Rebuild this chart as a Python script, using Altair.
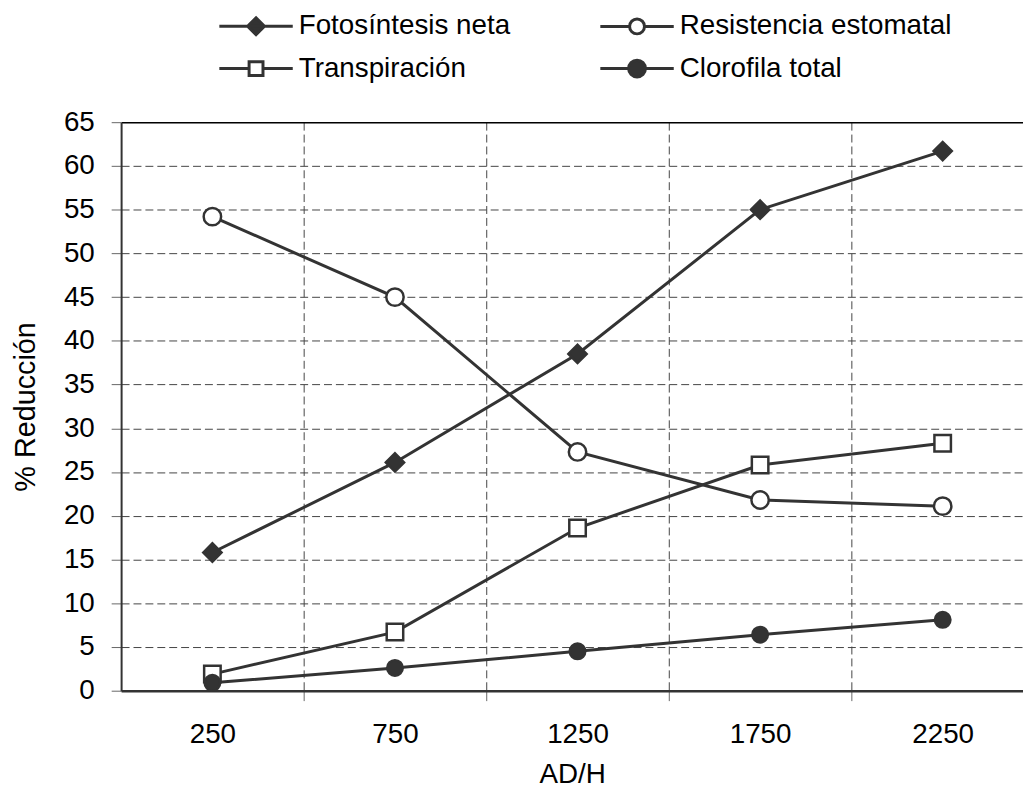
import altair as alt
import pandas as pd

# ---- data ----
x_vals = [250, 750, 1250, 1750, 2250]
series = ["Fotosíntesis neta", "Resistencia estomatal", "Transpiración", "Clorofila total"]
fotosintesis = [15.8, 26.1, 38.5, 55.0, 61.7]
resistencia = [54.2, 45.0, 27.3, 21.8, 21.1]
transpiracion = [1.9, 6.7, 18.6, 25.8, 28.3]
clorofila = [0.9, 2.6, 4.5, 6.4, 8.1]
y_ticks = list(range(0, 70, 5))
x_ticks = [250, 500, 750, 1000, 1250, 1500, 1750, 2000, 2250]

rows = []
for name, vals in zip(series, [fotosintesis, resistencia, transpiracion, clorofila]):
    for xv, yv in zip(x_vals, vals):
        rows.append({"ad": xv, "v": yv, "serie": name})
df = pd.DataFrame(rows)

FONT = "Liberation Sans"
DARK = "#333333"
GRID = "#444444"

marker_shapes = ["diamond", "circle", "square", "circle"]
marker_fills = [DARK, "white", "white", DARK]
marker_strokes = [DARK, DARK, DARK, DARK]
marker_sizes = [340, 245, 230, 265]

# legend symbols: line + marker (custom SVG paths)
legend_paths = [
    "M-3.7,0H3.7M0,-0.85L0.85,0L0,0.85L-0.85,0Z",
    "M-3.7,0H-0.75M0.75,0H3.7M-0.75,0A0.75,0.75 0 1,0 0.75,0A0.75,0.75 0 1,0 -0.75,0Z",
    "M-3.7,0H-0.7M0.7,0H3.7M-0.7,-0.7H0.7V0.7H-0.7Z",
    "M-3.7,0H3.7M-0.85,0A0.85,0.85 0 1,0 0.85,0A0.85,0.85 0 1,0 -0.85,0Z",
]

x_enc = alt.X(
    "ad:Q",
    scale=alt.Scale(domain=[0, 2470], nice=False, zero=False),
    axis=alt.Axis(
        values=x_ticks,
        format="d",
        title="AD/H",
        grid=True,
        gridColor=GRID,
        gridDash=[8, 4],
        gridWidth=1,
        gridOpacity={"condition": {"test": "datum.value % 500 === 0", "value": 1}, "value": 0},
        tickOpacity={"condition": {"test": "datum.value % 500 === 0", "value": 1}, "value": 0},
        labelOpacity={"condition": {"test": "datum.value % 500 === 0", "value": 0}, "value": 1},
        tickSize=10,
        tickColor="#666666",
        tickWidth=1,
        labelFont=FONT,
        labelFontSize=28,
        labelColor="black",
        labelPadding=20,
        labelOverlap=False,
        labelFlush=False,
        titleFont=FONT,
        titleFontSize=28,
        titleFontWeight="normal",
        titleColor="black",
        titlePadding=13,
        domainColor=DARK,
        domainWidth=2.5,
    ),
)

y_enc = alt.Y(
    "v:Q",
    scale=alt.Scale(domain=[0, 65], nice=False),
    axis=alt.Axis(
        values=y_ticks,
        title="% Reducción",
        grid=True,
        gridColor={"condition": {"test": "datum.value === 65", "value": "#000000"}, "value": GRID},
        gridDash={"condition": {"test": "datum.value === 65", "value": []}, "value": [8, 4]},
        gridWidth={"condition": {"test": "datum.value === 65", "value": 1.5}, "value": 1},
        tickSize=10,
        tickColor="#666666",
        tickWidth=1,
        labelFont=FONT,
        labelFontSize=28,
        labelColor="black",
        labelPadding=17,
        titleFont=FONT,
        titleFontSize=29,
        titleFontWeight="normal",
        titleColor="black",
        titlePadding=23,
        domainColor=DARK,
        domainWidth=2,
    ),
)

base = alt.Chart(df)

lines = base.mark_line(color=DARK, strokeWidth=3).encode(
    x=x_enc, y=y_enc, detail="serie:N", order="ad:Q"
)

points = base.mark_point(filled=True, stroke=DARK, strokeWidth=2.5, opacity=1).encode(
    x=x_enc,
    y=y_enc,
    shape=alt.Shape("serie:N", scale=alt.Scale(domain=series, range=marker_shapes), legend=None),
    fill=alt.Fill("serie:N", scale=alt.Scale(domain=series, range=marker_fills), legend=None),
    size=alt.Size("serie:N", scale=alt.Scale(domain=series, range=marker_sizes), legend=None),
)

legend_props = dict(
    title=None,
    orient="none",
    direction="horizontal",
    legendX=122,
    legendY=-111,
    columns=2,
    columnPadding=84,
    rowPadding=13,
    symbolSize=400,
    symbolStrokeWidth=3,
    symbolStrokeColor=DARK,
    symbolOpacity=1,
    symbolOffset=0,
    labelFont=FONT,
    labelFontSize=28,
    labelColor="black",
    labelOffset=29,
    labelLimit=500,
    padding=0,
)

legend_layer = base.transform_filter("datum.v < -1000").mark_point(
    filled=True, strokeWidth=3, opacity=1
).encode(
    x=x_enc,
    y=y_enc,
    shape=alt.Shape("serie:N", scale=alt.Scale(domain=series, range=legend_paths),
                    legend=alt.Legend(**legend_props)),
    fill=alt.Fill("serie:N", scale=alt.Scale(domain=series, range=marker_fills),
                  legend=alt.Legend(**legend_props)),
    stroke=alt.Stroke("serie:N", scale=alt.Scale(domain=series, range=marker_strokes),
                      legend=alt.Legend(**legend_props)),
)

chart = (
    alt.layer(lines, points, legend_layer)
    .resolve_scale(shape="independent", fill="independent", size="independent",
                   stroke="independent")
    .properties(
        width=909,
        height=573,
        autosize=alt.AutoSizeParams(type="none"),
        padding={"left": 114, "top": 112, "right": 0, "bottom": 97},
    )
    .configure_view(strokeWidth=0)
    .configure_legend(symbolStrokeColor=DARK, symbolStrokeWidth=3, symbolOpacity=1)
    .configure(font=FONT)
)

chart.save("out.html", embed_options={"renderer": "svg", "actions": False})
